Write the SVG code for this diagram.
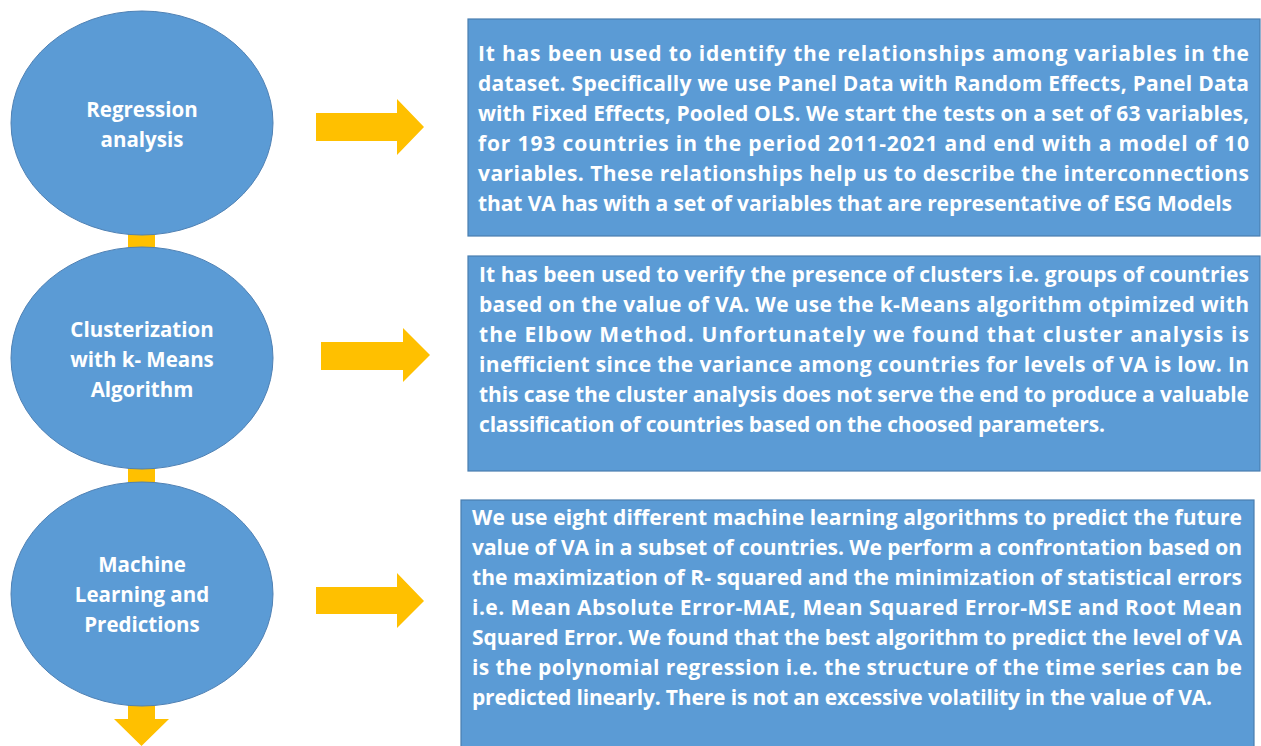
<svg xmlns="http://www.w3.org/2000/svg" width="1261" height="746" viewBox="0 0 1261 746">
<style>
.ell{fill:#5B9BD5;stroke:#4F81B4;stroke-width:1}
.box{fill:#5B9BD5;stroke:#4A7EB0;stroke-width:1.2}
.arr{fill:#FFC000}
.lbl{font-family:"Open Sans","Liberation Sans",sans-serif;font-weight:bold;font-size:20.5px;fill:#fff;text-anchor:middle}
.txt{font-family:"Open Sans","Liberation Sans",sans-serif;font-weight:bold;font-size:21px;fill:#fff}
</style>
<rect width="1261" height="746" fill="#fff"/>
<g id="connectors">
<polygon class="arr" points="128,120 155,120 155,719 169,719 141.5,746 114,719 128,719"/>
<polygon class="arr" points="316,113 397,113 397,99 424,127 397,155 397,141 316,141"/>
<polygon class="arr" points="321,342 403,342 403,328 430,355 403,382 403,370 321,370"/>
<polygon class="arr" points="316,587 397,587 397,573 424,601 397,628 397,614 316,614"/>
</g>
<g id="node-regression">
<ellipse class="ell" cx="142" cy="123" rx="131" ry="112"/>
<text class="lbl" x="142" y="117">Regression</text>
<text class="lbl" x="142" y="147">analysis</text>
</g>
<g id="node-clusterization">
<ellipse class="ell" cx="142" cy="358" rx="131" ry="111"/>
<text class="lbl" x="142" y="337">Clusterization</text>
<text class="lbl" x="142" y="367">with k- Means</text>
<text class="lbl" x="142" y="397">Algorithm</text>
</g>
<g id="node-ml">
<ellipse class="ell" cx="142" cy="594" rx="131" ry="112"/>
<text class="lbl" x="142" y="572">Machine</text>
<text class="lbl" x="142" y="602">Learning and</text>
<text class="lbl" x="142" y="632">Predictions</text>
</g>
<g id="box-regression">
<rect class="box" x="468" y="19" width="792" height="217"/>
<text class="txt" x="478" y="61" textLength="771" lengthAdjust="spacing">It has been used to identify the relationships among variables in the</text>
<text class="txt" x="478" y="91" textLength="771" lengthAdjust="spacing">dataset. Specifically we use Panel Data with Random Effects, Panel Data</text>
<text class="txt" x="478" y="121" textLength="771" lengthAdjust="spacing">with Fixed Effects, Pooled OLS. We start the tests on a set of 63 variables,</text>
<text class="txt" x="478" y="151" textLength="771" lengthAdjust="spacing">for 193 countries in the period 2011-2021 and end with a model of 10</text>
<text class="txt" x="478" y="181" textLength="771" lengthAdjust="spacing">variables. These relationships help us to describe the interconnections</text>
<text class="txt" x="478" y="211" textLength="754" lengthAdjust="spacing">that VA has with a set of variables that are representative of ESG Models</text>
</g>
<g id="box-clusterization">
<rect class="box" x="468" y="256" width="792" height="215"/>
<text class="txt" x="479" y="282" textLength="770" lengthAdjust="spacing">It has been used to verify the presence of clusters i.e. groups of countries</text>
<text class="txt" x="479" y="312" textLength="770" lengthAdjust="spacing">based on the value of VA. We use the k-Means algorithm otpimized with</text>
<text class="txt" x="479" y="342" textLength="770" lengthAdjust="spacing">the Elbow Method. Unfortunately we found that cluster analysis is</text>
<text class="txt" x="479" y="372" textLength="770" lengthAdjust="spacing">inefficient since the variance among countries for levels of VA is low. In</text>
<text class="txt" x="479" y="402" textLength="770" lengthAdjust="spacing">this case the cluster analysis does not serve the end to produce a valuable</text>
<text class="txt" x="479" y="432" textLength="626" lengthAdjust="spacing">classification of countries based on the choosed parameters.</text>
</g>
<g id="box-ml">
<rect class="box" x="461" y="500" width="793" height="260"/>
<text class="txt" x="472" y="525" textLength="770" lengthAdjust="spacing">We use eight different machine learning algorithms to predict the future</text>
<text class="txt" x="472" y="555" textLength="770" lengthAdjust="spacing">value of VA in a subset of countries. We perform a confrontation based on</text>
<text class="txt" x="472" y="585" textLength="770" lengthAdjust="spacing">the maximization of R- squared and the minimization of statistical errors</text>
<text class="txt" x="472" y="615" textLength="770" lengthAdjust="spacing">i.e. Mean Absolute Error-MAE, Mean Squared Error-MSE and Root Mean</text>
<text class="txt" x="472" y="645" textLength="770" lengthAdjust="spacing">Squared Error. We found that the best algorithm to predict the level of VA</text>
<text class="txt" x="472" y="675" textLength="770" lengthAdjust="spacing">is the polynomial regression i.e. the structure of the time series can be</text>
<text class="txt" x="472" y="705" textLength="740" lengthAdjust="spacing">predicted linearly. There is not an excessive volatility in the value of VA.</text>
</g>
</svg>
